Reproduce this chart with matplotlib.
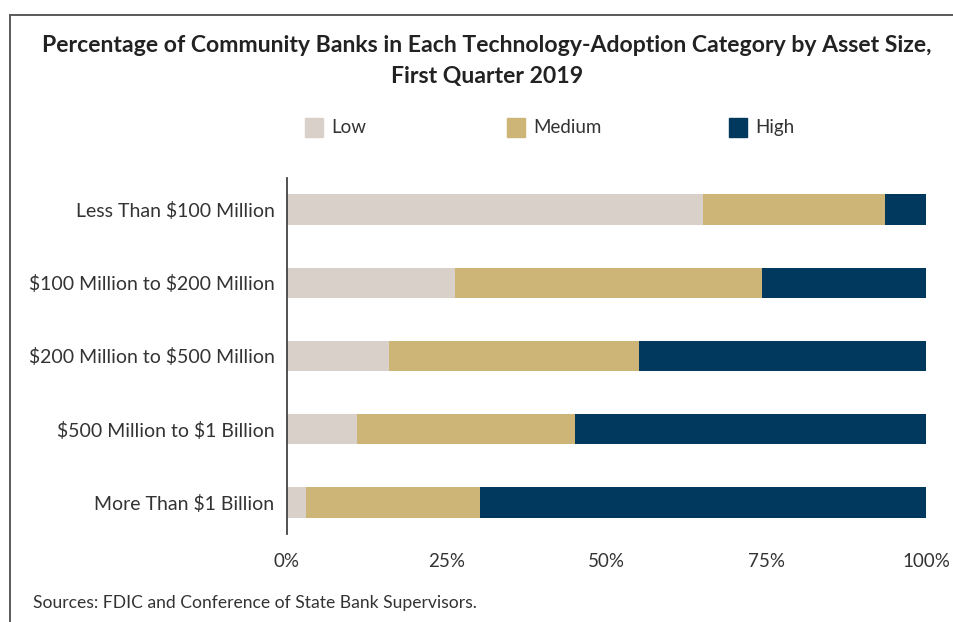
import matplotlib.pyplot as plt
from matplotlib.lines import Line2D
import numpy as np

plt.rcParams["font.family"] = ["Lato", "DejaVu Sans"]

# share of banks per adoption level, bottom row first
asset_sizes = [
    "More Than \\$1 Billion",
    "\\$500 Million to \\$1 Billion",
    "\\$200 Million to \\$500 Million",
    "\\$100 Million to \\$200 Million",
    "Less Than \\$100 Million",
]
low = [2.9, 11.0, 16.0, 26.3, 65.1]
medium = [27.3, 34.1, 39.1, 48.0, 28.5]
high = [69.8, 54.9, 44.9, 25.7, 6.4]

levels = ["Low", "Medium", "High"]
colors = ["#D9D0CA", "#CCB576", "#00385E"]
x_ticks = [0, 25, 50, 75, 100]

W, H = 954, 622
fig = plt.figure(figsize=(W / 100, H / 100), dpi=100)

# frame around the panel
fig.add_artist(Line2D([10 / W, 1.0], [1 - 15 / H, 1 - 15 / H], color="#5a5a5a", lw=1.4))
fig.add_artist(Line2D([10 / W, 10 / W], [0, 1 - 15 / H], color="#5a5a5a", lw=1.4))

fig.text(487 / W, 1 - 45 / H,
         "Percentage of Community Banks in Each Technology-Adoption Category by Asset Size,",
         ha="center", va="center", fontsize=16.6, fontweight="bold", color="#222222")
fig.text(487 / W, 1 - 76 / H, "First Quarter 2019",
         ha="center", va="center", fontsize=16.6, fontweight="bold", color="#222222")

ax = fig.add_axes([287 / W, 1 - 534 / H, (926 - 287) / W, (534 - 178) / H])
y = np.arange(len(asset_sizes))
left = np.zeros(len(asset_sizes))
for vals, color, name in zip([low, medium, high], colors, levels):
    ax.barh(y, vals, left=left, height=0.41, color=color, label=name)
    left += np.array(vals)

ax.set_xlim(0, 100)
ax.set_ylim(-0.43, len(asset_sizes) - 0.57)
ax.set_yticks(y)
ax.set_yticklabels(asset_sizes, fontsize=14, color="#333333")
ax.set_xticks(x_ticks)
ax.set_xticklabels([f"{t}%" for t in x_ticks], fontsize=13.5, color="#333333")
ax.tick_params(axis="both", length=0)
ax.tick_params(axis="x", pad=14)
ax.tick_params(axis="y", pad=9)
for side in ["top", "right", "bottom"]:
    ax.spines[side].set_visible(False)
ax.spines["left"].set_color("#444444")
ax.spines["left"].set_linewidth(1.3)

# legend entries laid out on one row above the bars
legend_x = [305, 507, 729]
for x0, name, color in zip(legend_x, levels, colors):
    fig.patches.append(plt.Rectangle((x0 / W, 1 - 137 / H), 18 / W, 19 / H,
                                     transform=fig.transFigure, color=color))
    fig.text((x0 + 26) / W, 1 - 128 / H, name, fontsize=13.5, color="#333333", va="center")

fig.text(33 / W, 1 - 603 / H, "Sources: FDIC and Conference of State Bank Supervisors.",
         fontsize=12.6, color="#333333", va="center")

fig.savefig("out.png", dpi=100)
